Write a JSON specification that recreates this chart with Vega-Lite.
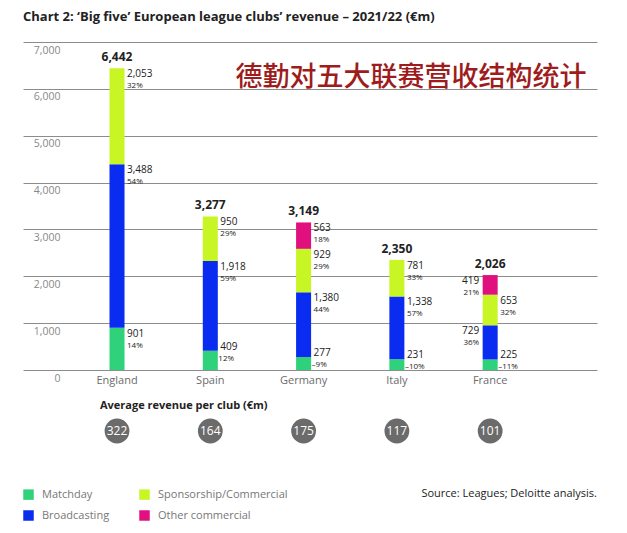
{
  "$schema": "https://vega.github.io/schema/vega-lite/v6.json",
  "padding": {"left": 23, "top": 11, "right": 30, "bottom": 10},
  "background": "white",
  "spacing": 15,
  "config": {
    "font": "Open Sans",
    "view": {"stroke": null},
    "title": {"font": "Open Sans"},
    "legend": {"labelFont": "Open Sans", "gridAlign": "each"}
  },
  "title": {"text": "Chart 2: ‘Big five’ European league clubs’ revenue – 2021/22 (€m)", "anchor": "start", "fontSize": 13, "fontWeight": "bold", "color": "#222222", "offset": 18},
  "datasets": {
    "segs": [
      {"country": "England", "category": "Matchday", "order": 1, "value": 901, "pct": "14%"},
      {"country": "England", "category": "Broadcasting", "order": 2, "value": 3488, "pct": "54%"},
      {"country": "England", "category": "Sponsorship/Commercial", "order": 3, "value": 2053, "pct": "32%"},
      {"country": "Spain", "category": "Matchday", "order": 1, "value": 409, "pct": "12%"},
      {"country": "Spain", "category": "Broadcasting", "order": 2, "value": 1918, "pct": "59%"},
      {"country": "Spain", "category": "Sponsorship/Commercial", "order": 3, "value": 950, "pct": "29%"},
      {"country": "Germany", "category": "Matchday", "order": 1, "value": 277, "pct": "–9%"},
      {"country": "Germany", "category": "Broadcasting", "order": 2, "value": 1380, "pct": "44%"},
      {"country": "Germany", "category": "Sponsorship/Commercial", "order": 3, "value": 929, "pct": "29%"},
      {"country": "Germany", "category": "Other commercial", "order": 4, "value": 563, "pct": "18%"},
      {"country": "Italy", "category": "Matchday", "order": 1, "value": 231, "pct": "–10%"},
      {"country": "Italy", "category": "Broadcasting", "order": 2, "value": 1338, "pct": "57%"},
      {"country": "Italy", "category": "Sponsorship/Commercial", "order": 3, "value": 781, "pct": "33%"},
      {"country": "France", "category": "Matchday", "order": 1, "value": 225, "pct": "–11%"},
      {"country": "France", "category": "Broadcasting", "order": 2, "value": 729, "pct": "36%"},
      {"country": "France", "category": "Sponsorship/Commercial", "order": 3, "value": 653, "pct": "32%"},
      {"country": "France", "category": "Other commercial", "order": 4, "value": 419, "pct": "21%"}
    ],
    "clubs": [
      {"country": "England", "total": 6442, "avg": 322},
      {"country": "Spain", "total": 3277, "avg": 164},
      {"country": "Germany", "total": 3149, "avg": 175},
      {"country": "Italy", "total": 2350, "avg": 117},
      {"country": "France", "total": 2026, "avg": 101}
    ]
  },
  "vconcat": [
    {
      "width": 574,
      "height": 328,
      "encoding": {
        "x": {"field": "country", "type": "nominal", "sort": ["England", "Spain", "Germany", "Italy", "France"],
          "scale": {"type": "band", "paddingInner": 0.839, "paddingOuter": 0.996, "align": 0.4655},
          "axis": {"title": null, "domain": false, "ticks": false, "labelAngle": 0, "labelFontSize": 11, "labelColor": "#6b6b6b", "labelPadding": 4}}
      },
      "layer": [
        {
          "data": {"name": "segs"},
          "transform": [{"stack": "value", "groupby": ["country"], "sort": [{"field": "order"}], "as": ["v0", "v1"]}],
          "mark": {"type": "bar"},
          "encoding": {
            "y": {"field": "v1", "type": "quantitative", "title": null, "scale": {"domain": [0, 7000], "nice": false},
              "axis": {"title": null, "values": [0, 1000, 2000, 3000, 4000, 5000, 6000, 7000], "format": ",.0f", "domain": false, "ticks": false,
                "grid": true, "gridColor": "#8c8c8c", "gridWidth": 1, "labelAlign": "right", "labelBaseline": "top", "labelPadding": -37, "labelOffset": 3,
                "labelFontSize": 10.5, "labelColor": "#888888"}},
            "y2": {"field": "v0"},
            "color": {"field": "category", "type": "nominal",
              "scale": {"domain": ["Matchday", "Broadcasting", "Sponsorship/Commercial", "Other commercial"], "range": ["#2fd27a", "#0a2bf0", "#c8f524", "#e0117f"]},
              "legend": {"title": null, "orient": "none", "legendX": 0, "legendY": 447, "columns": 2, "symbolType": "square", "symbolSize": 110, "symbolStrokeWidth": 0,
                "labelFontSize": 11, "labelColor": "#777777", "columnPadding": 29, "rowPadding": 9, "labelOffset": 8}}
          }
        },
        {
          "data": {"name": "segs"},
          "transform": [{"stack": "value", "groupby": ["country"], "sort": [{"field": "order"}], "as": ["v0", "v1"]},
            {"filter": "datum.value >= 500 && !(datum.country === 'France' && datum.category === 'Broadcasting')"}],
          "mark": {"type": "text", "align": "left", "baseline": "top", "dx": 10, "dy": 1, "fontSize": 10, "color": "#222222"},
          "encoding": {"y": {"field": "v1", "type": "quantitative", "title": null}, "text": {"field": "value", "type": "quantitative", "format": ","}}
        },
        {
          "data": {"name": "segs"},
          "transform": [{"stack": "value", "groupby": ["country"], "sort": [{"field": "order"}], "as": ["v0", "v1"]},
            {"filter": "datum.value >= 500 && !(datum.country === 'France' && datum.category === 'Broadcasting')"}],
          "mark": {"type": "text", "align": "left", "baseline": "top", "dx": 10, "dy": 14, "fontSize": 8, "color": "#222222"},
          "encoding": {"y": {"field": "v1", "type": "quantitative", "title": null}, "text": {"field": "pct"}}
        },
        {
          "data": {"name": "segs"},
          "transform": [{"stack": "value", "groupby": ["country"], "sort": [{"field": "order"}], "as": ["v0", "v1"]},
            {"filter": "datum.value < 500 && datum.order === 1"}],
          "mark": {"type": "text", "align": "left", "baseline": "bottom", "dx": 10, "dy": 1, "fontSize": 10, "color": "#222222"},
          "encoding": {"y": {"field": "v1", "type": "quantitative", "title": null}, "text": {"field": "value", "type": "quantitative", "format": ","}}
        },
        {
          "data": {"name": "segs"},
          "transform": [{"stack": "value", "groupby": ["country"], "sort": [{"field": "order"}], "as": ["v0", "v1"]},
            {"filter": "datum.value < 500 && datum.order === 1"}],
          "mark": {"type": "text", "align": "left", "baseline": "top", "dx": 8, "dy": 4, "fontSize": 8, "color": "#222222"},
          "encoding": {"y": {"field": "v1", "type": "quantitative", "title": null}, "text": {"field": "pct"}}
        },
        {
          "data": {"name": "segs"},
          "transform": [{"stack": "value", "groupby": ["country"], "sort": [{"field": "order"}], "as": ["v0", "v1"]},
            {"filter": "datum.country === 'France' && (datum.category === 'Broadcasting' || datum.category === 'Other commercial')"}],
          "mark": {"type": "text", "align": "right", "baseline": "top", "dx": -11, "dy": 1, "fontSize": 10, "color": "#222222"},
          "encoding": {"y": {"field": "v1", "type": "quantitative", "title": null}, "text": {"field": "value", "type": "quantitative", "format": ","}}
        },
        {
          "data": {"name": "segs"},
          "transform": [{"stack": "value", "groupby": ["country"], "sort": [{"field": "order"}], "as": ["v0", "v1"]},
            {"filter": "datum.country === 'France' && (datum.category === 'Broadcasting' || datum.category === 'Other commercial')"}],
          "mark": {"type": "text", "align": "right", "baseline": "top", "dx": -11, "dy": 14, "fontSize": 8, "color": "#222222"},
          "encoding": {"y": {"field": "v1", "type": "quantitative", "title": null}, "text": {"field": "pct"}}
        },
        {
          "data": {"name": "clubs"},
          "mark": {"type": "text", "baseline": "bottom", "dy": -4, "fontSize": 12, "fontWeight": "bold", "color": "#222222"},
          "encoding": {"y": {"field": "total", "type": "quantitative", "title": null}, "text": {"field": "total", "type": "quantitative", "format": ","}}
        },
        {
          "data": {"values": [{"country": "Italy", "value": 6230, "note": "德勤对五大联赛营收结构统计"}]},
          "mark": {"type": "text", "baseline": "middle", "dx": 14, "fontSize": 27, "font": "Noto Sans CJK SC", "fontWeight": 500, "color": "#9e1c1c"},
          "encoding": {"y": {"field": "value", "type": "quantitative", "title": null}, "text": {"field": "note"}}
        }
      ]
    },
    {
      "width": 574,
      "height": 28,
      "data": {"name": "clubs"},
      "title": {"text": "Average revenue per club (€m)", "anchor": "start", "dx": 77, "fontSize": 11, "fontWeight": "bold", "color": "#222222", "offset": 6},
      "encoding": {
        "x": {"field": "country", "type": "nominal", "sort": ["England", "Spain", "Germany", "Italy", "France"],
          "scale": {"type": "band", "paddingInner": 0.839, "paddingOuter": 0.996, "align": 0.4655}, "axis": null}
      },
      "layer": [
        {"mark": {"type": "circle", "size": 616, "color": "#6b6b6b", "opacity": 1}},
        {"mark": {"type": "text", "color": "white", "fontSize": 12}, "encoding": {"text": {"field": "avg", "type": "quantitative"}}}
      ]
    },
    {
      "width": 574,
      "height": 30,
      "data": {"values": [{"src": "Source: Leagues; Deloitte analysis."}]},
      "title": {"text": "Source: Leagues; Deloitte analysis.", "anchor": "end", "fontSize": 11, "fontWeight": "normal", "color": "#222222", "offset": 0, "dy": 39},
      "mark": {"type": "text", "opacity": 0},
      "encoding": {"text": {"field": "src"}}
    }
  ]
}
